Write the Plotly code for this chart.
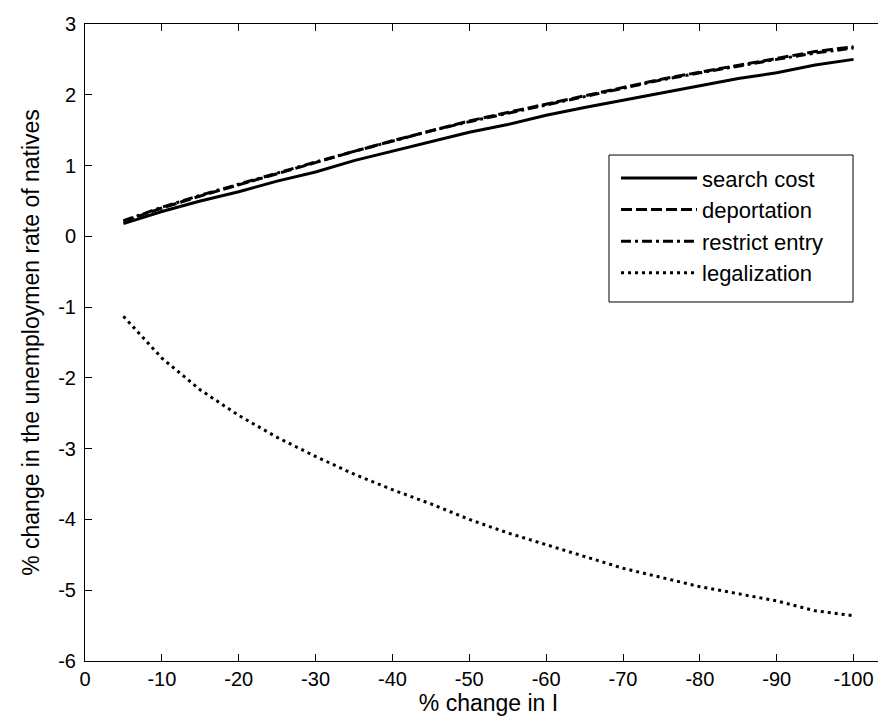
import plotly.graph_objects as go

x_change = [-5, -10, -15, -20, -25, -30, -35, -40, -45, -50,
            -55, -60, -65, -70, -75, -80, -85, -90, -95, -100]

search_cost = [0.18, 0.35, 0.50, 0.63, 0.78, 0.91, 1.07, 1.20, 1.33, 1.47,
               1.58, 1.71, 1.82, 1.92, 2.02, 2.13, 2.23, 2.31, 2.42, 2.50]
deportation = [0.21, 0.40, 0.57, 0.73, 0.89, 1.04, 1.20, 1.35, 1.49, 1.63,
               1.75, 1.87, 1.99, 2.11, 2.22, 2.32, 2.42, 2.52, 2.61, 2.68]
restrict_entry = [0.22, 0.41, 0.58, 0.74, 0.89, 1.05, 1.20, 1.35, 1.49, 1.62,
                  1.74, 1.86, 1.98, 2.10, 2.21, 2.31, 2.41, 2.50, 2.59, 2.66]
legalization = [-1.13, -1.72, -2.17, -2.53, -2.84, -3.11, -3.36, -3.58, -3.78, -4.00,
                -4.19, -4.36, -4.53, -4.69, -4.82, -4.95, -5.05, -5.15, -5.29, -5.36]

x_ticks = [0, -10, -20, -30, -40, -50, -60, -70, -80, -90, -100]
y_ticks = [3, 2, 1, 0, -1, -2, -3, -4, -5, -6]

series = [
    ("search cost", search_cost, "solid"),
    ("deportation", deportation, "11px,4px"),
    ("restrict entry", restrict_entry, "10px,4px,3px,4px"),
    ("legalization", legalization, "3px,4px"),
]

fig = go.Figure()
for name, vals, dash in series:
    fig.add_trace(go.Scatter(
        x=x_change, y=vals, mode="lines", name=name,
        line=dict(color="black", width=3, dash=dash),
    ))

FONT = "Liberation Sans, Arial, Helvetica, sans-serif"

# legend frame (paper coordinates)
fig.add_shape(type="rect", xref="paper", yref="paper",
              x0=0.6493, x1=0.9517, y0=0.5636, y1=0.7943,
              line=dict(color="black", width=1), fillcolor="white", layer="below")

fig.update_layout(
    width=886, height=719,
    margin=dict(l=77, r=2, t=16, b=66),
    paper_bgcolor="white", plot_bgcolor="white",
    font=dict(family=FONT, size=20, color="black"),
    showlegend=True,
    legend=dict(
        x=0.658, y=0.791, xanchor="left", yanchor="top",
        borderwidth=0, bgcolor="rgba(0,0,0,0)",
        font=dict(size=22, family=FONT),
        itemwidth=76, tracegroupgap=0,
    ),
    xaxis=dict(
        range=[0, -105], tickvals=x_ticks, ticktext=[str(v) for v in x_ticks],
        ticks="inside", ticklen=7, tickcolor="black",
        showline=True, linecolor="black", linewidth=1, mirror="ticks",
        showgrid=False, zeroline=False,
        title=dict(text="% change in I", font=dict(size=23), standoff=4),
    ),
    yaxis=dict(
        range=[-6, 3], tickvals=y_ticks, ticktext=[str(v) for v in y_ticks],
        ticks="inside", ticklen=7, tickcolor="black",
        showline=True, linecolor="black", linewidth=1, mirror="ticks",
        showgrid=False, zeroline=False, ticklabelstandoff=4,
        title=dict(text="% change in the unemploymen rate of natives", font=dict(size=23), standoff=12),
    ),
)

fig.write_html("out.html")
